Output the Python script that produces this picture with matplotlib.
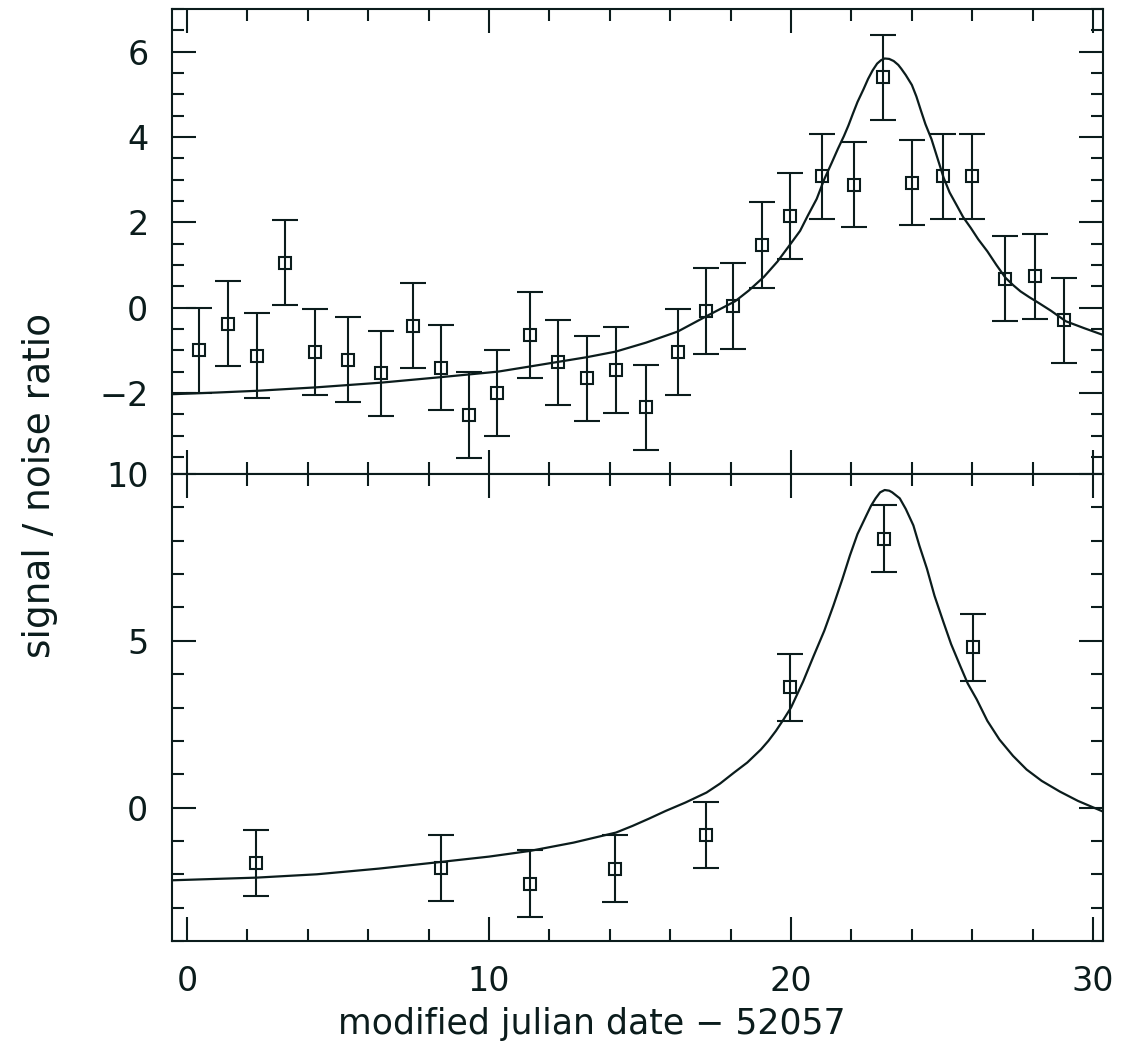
import matplotlib
matplotlib.use("Agg")
import matplotlib.pyplot as plt
from matplotlib.ticker import MultipleLocator

# top panel: data points (x, S/N), error = 1 sigma
top_x = [0.40, 1.35, 2.30, 3.25, 4.25, 5.32, 6.41, 7.47, 8.42, 9.33,
         10.25, 11.34, 12.28, 13.25, 14.21, 15.19, 16.25, 17.17, 18.09, 19.03,
         19.98, 21.04, 22.1, 23.04, 24.0, 25.02, 26.0, 27.1, 28.08, 29.04]
top_y = [-1.0, -0.38, -1.13, 1.05, -1.04, -1.22, -1.54, -0.42, -1.41, -2.52,
         -2.0, -0.64, -1.28, -1.66, -1.46, -2.34, -1.04, -0.08, 0.04, 1.47,
         2.15, 3.08, 2.88, 5.40, 2.93, 3.08, 3.08, 0.68, 0.73, -0.30]
top_err = [1.0] * len(top_x)

# top panel: fitted curve
tc_x = [-0.5, 1.0, 2.3, 4.25, 6.4, 8.4, 10.3, 11.35, 12.3, 13.25, 14.2, 15.2,
        16.25, 17.2, 18.15, 18.6, 19.1, 19.55, 20.0, 20.3, 20.55, 20.85, 21.1,
        21.35, 21.55, 21.75, 21.9, 22.05, 22.2, 22.4, 22.55, 22.7, 22.85,
        22.98, 23.1, 23.25, 23.4, 23.55, 23.65, 23.8, 24.0, 24.15, 24.3, 24.45,
        24.65, 24.85, 25.05, 25.25, 25.5, 25.7, 25.95, 26.2, 26.5, 26.8, 27.1,
        27.35, 27.6, 27.9, 28.2, 28.6, 29.1, 29.7, 30.33]
tc_y = [-2.03, -1.99, -1.95, -1.87, -1.76, -1.63, -1.50, -1.38, -1.27, -1.16,
        -1.03, -0.82, -0.56, -0.20, 0.15, 0.40, 0.72, 1.08, 1.51, 1.80, 2.15,
        2.55, 3.01, 3.40, 3.72, 4.02, 4.27, 4.55, 4.82, 5.12, 5.36, 5.56, 5.72,
        5.80, 5.84, 5.83, 5.78, 5.69, 5.60, 5.45, 5.22, 4.95, 4.62, 4.30, 3.95,
        3.50, 3.05, 2.70, 2.38, 2.12, 1.87, 1.60, 1.32, 1.00, 0.70, 0.53, 0.38,
        0.24, 0.11, -0.07, -0.32, -0.48, -0.64]

# bottom panel
bot_x = [2.29, 8.42, 11.35, 14.17, 17.18, 19.96, 23.07, 26.03]
bot_y = [-1.66, -1.81, -2.28, -1.83, -0.82, 3.60, 8.06, 4.80]
bot_err = [1.0] * len(bot_x)

bc_x = [-0.5, 2.3, 4.3, 6.35, 8.4, 10.0, 11.35, 12.8, 14.2, 14.75, 15.3,
        15.85, 16.5, 17.2, 17.65, 18.1, 18.55, 19.0, 19.25, 19.5, 19.75, 20.0,
        20.4, 20.75, 21.1, 21.4, 21.7, 21.95, 22.2, 22.5, 22.65, 22.8, 22.95,
        23.1, 23.25, 23.35, 23.6, 23.8, 24.05, 24.25, 24.5, 24.75, 25.05, 25.3,
        25.6, 25.85, 26.15, 26.5, 26.9, 27.35, 27.8, 28.3, 28.9, 29.5, 30.33]
bc_y = [-2.18, -2.10, -2.0, -1.83, -1.63, -1.47, -1.30, -1.05, -0.75, -0.55,
        -0.33, -0.1, 0.15, 0.45, 0.72, 1.04, 1.35, 1.74, 2.0, 2.3, 2.64, 3.0,
        3.78, 4.55, 5.30, 6.05, 6.85, 7.56, 8.20, 8.77, 9.05, 9.27, 9.45, 9.52,
        9.50, 9.45, 9.27, 8.95, 8.46, 7.85, 7.16, 6.35, 5.55, 4.90, 4.25, 3.72,
        3.24, 2.60, 2.04, 1.55, 1.14, 0.80, 0.48, 0.20, -0.12]

ink = '#0b1c1c'
plt.rcParams['font.family'] = ['DejaVu Sans']
plt.rcParams['axes.linewidth'] = 1.5

fig = plt.figure(figsize=(11.29, 10.54), dpi=100)
W, H = 1129, 1054
left, right = 172 / W, 1103 / W
ax1 = fig.add_axes([left, 1 - 474 / H, right - left, (474 - 9) / H])
ax2 = fig.add_axes([left, 1 - 941 / H, right - left, (941 - 474) / H])


def style(ax, ymaj, ymin):
    ax.xaxis.set_major_locator(MultipleLocator(10))
    ax.xaxis.set_minor_locator(MultipleLocator(2))
    ax.yaxis.set_major_locator(MultipleLocator(ymaj))
    ax.yaxis.set_minor_locator(MultipleLocator(ymin))
    ax.tick_params(which='both', direction='in', top=True, right=True,
                   color=ink, labelcolor=ink, labelsize=24)
    ax.tick_params(which='major', length=17, width=1.5, pad=17)
    ax.tick_params(which='minor', length=8.5, width=1.5)
    for s in ax.spines.values():
        s.set_color(ink)
    ax.set_xlim(-0.5, 30.33)


for ax, x, y, e, cx, cy in [(ax1, top_x, top_y, top_err, tc_x, tc_y),
                            (ax2, bot_x, bot_y, bot_err, bc_x, bc_y)]:
    ax.errorbar(x, y, yerr=e, fmt='s', ms=8, mfc='none', mec=ink, mew=1.5,
                ecolor=ink, elinewidth=1.5, capsize=9.5, capthick=1.5)
    ax.plot(cx, cy, color=ink, lw=1.6, solid_joinstyle='round')

style(ax1, 2, 0.5)
style(ax2, 5, 1)
ax1.set_ylim(-3.9, 7.0)
ax2.set_ylim(-4, 10)
ax1.tick_params(labelbottom=False)

ax2.set_xlabel('modified julian date \u2212 52057', fontsize=25, color=ink)
ax2.xaxis.set_label_coords(0.451, -0.142)
fig.text(40 / W, 1 - 485 / H, 'signal / noise ratio', rotation=90,
         fontsize=27, color=ink, ha='center', va='center')

fig.savefig('out.png', dpi=100, facecolor='white')
